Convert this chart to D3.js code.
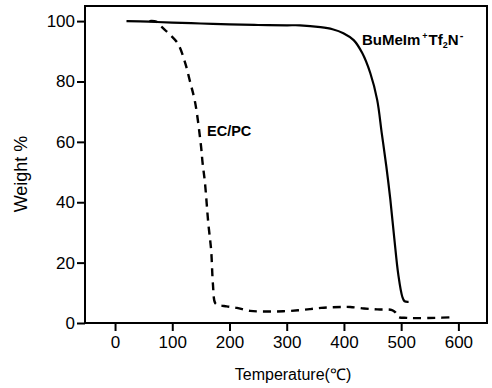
<!DOCTYPE html>
<html><head><meta charset="utf-8">
<script src="https://cdn.jsdelivr.net/npm/d3@7/dist/d3.min.js"></script>
<style>body{margin:0;background:#fff;} svg{display:block;font-family:"Liberation Sans",Arial,sans-serif;}</style>
</head><body><svg id="c" width="492" height="388"></svg>
<script>
const xTicks=[0,100,200,300,400,500,600];
const yTicks=[0,20,40,60,80,100];
const ilTemp=[20,60,100,150,200,250,300,323,359,380,399,417,432,446,458,466,474,481,488,495,502,506,513];
const ilWeight=[100,99.8,99.5,99.2,98.9,98.7,98.6,98.6,98,97.3,96,93.7,89.4,82.8,74,63,52,41,28,16,8.7,7.2,7];
const ecTemp=[60,72,82,96,110,122,131,140,150,153,157,163,168,171,175,180,195,213,236,265,294,320,341,360,376,395,411,435,458,484,490,495,510,528,560,589];
const ecWeight=[100,99.8,98,95.5,92.5,86.5,80,73,59,53,46.7,33,24,13,6.6,6,5.5,5,4,3.8,3.9,4.2,4.6,5,5.2,5.3,5.3,4.8,4.5,4.3,3.5,2,1.7,1.6,1.7,1.9];

const svg=d3.select("#c");
const L=85,R=487,T=6,B=323;
const x=d3.scaleLinear().domain([-52.5,650]).range([L,R]);
const y=d3.scaleLinear().domain([0,105]).range([B,T]);

svg.append("rect").attr("x",L).attr("y",T).attr("width",R-L).attr("height",B-T)
  .attr("fill","none").attr("stroke","#000").attr("stroke-width",2);

const xa=svg.append("g").attr("transform",`translate(0,${B})`)
  .call(d3.axisBottom(x).tickValues(xTicks).tickSize(8).tickSizeOuter(0).tickPadding(5));
const ya=svg.append("g").attr("transform",`translate(${L},0)`)
  .call(d3.axisLeft(y).tickValues(yTicks).tickSize(8).tickSizeOuter(0).tickPadding(2));
[xa,ya].forEach(a=>{a.select(".domain").remove();
  a.selectAll("line").attr("stroke","#000").attr("stroke-width",2);
  a.selectAll("text").attr("font-size",17).attr("fill","#000").attr("font-family","'Liberation Sans',Arial,sans-serif");});

const line=d3.line().x(d=>x(d[0])).y(d=>y(d[1])).curve(d3.curveCatmullRom.alpha(0.5));
svg.append("path").datum(d3.zip(ilTemp,ilWeight)).attr("d",line)
  .attr("fill","none").attr("stroke","#000").attr("stroke-width",2.2);
svg.append("path").datum(d3.zip(ecTemp,ecWeight)).attr("d",line)
  .attr("fill","none").attr("stroke","#000").attr("stroke-width",2.4).attr("stroke-dasharray","8,6");

const t1=svg.append("text").attr("x",362).attr("y",45).attr("font-size",15).attr("font-weight","bold");
t1.append("tspan").text("BuMeIm");
t1.append("tspan").text("+").attr("font-size",9).attr("dy",-6).attr("dx",2);
t1.append("tspan").text("Tf").attr("dy",6).attr("dx",1);
t1.append("tspan").text("2").attr("font-size",9).attr("dy",3);
t1.append("tspan").text("N").attr("dy",-3);
t1.append("tspan").text("-").attr("font-size",11).attr("dy",-6).attr("dx",1);

svg.append("text").attr("x",207).attr("y",136).attr("font-size",14.5).attr("font-weight","bold").text("EC/PC");

svg.append("text").attr("transform","translate(27,174) rotate(-90)").attr("text-anchor","middle")
  .attr("font-size",18).text("Weight %");
svg.append("text").attr("x",293).attr("y",380).attr("text-anchor","middle").attr("font-size",16).text("Temperature(℃)");
</script></body></html>
